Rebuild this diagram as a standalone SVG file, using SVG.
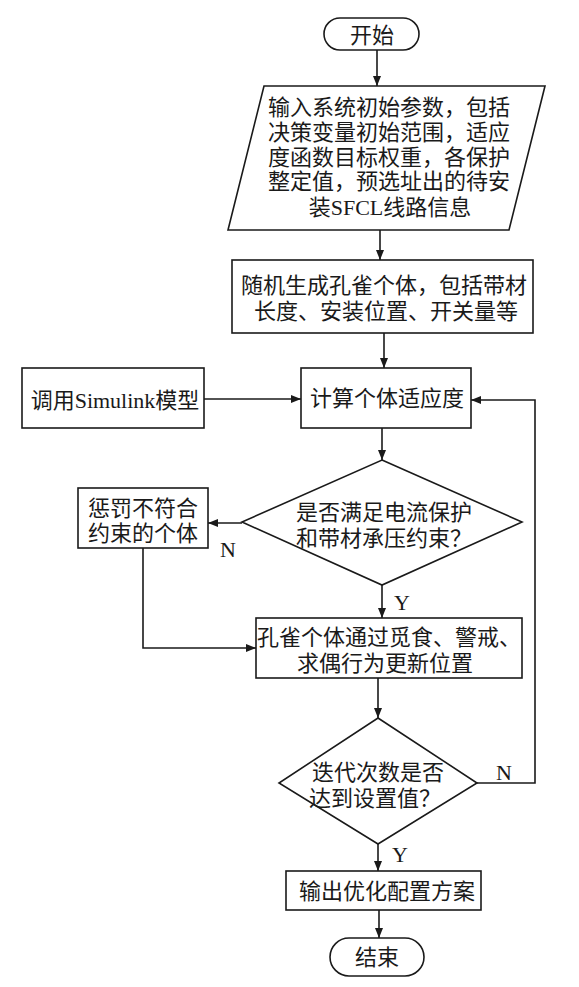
<svg xmlns="http://www.w3.org/2000/svg" width="579" height="987" viewBox="0 0 579 987">
<defs>
<style>
.s{fill:#fff;stroke:#1a1a1a;stroke-width:1.6}
.c{fill:none;stroke:#1a1a1a;stroke-width:1.6}
.t{font-family:"Liberation Serif","Noto Sans CJK SC",serif;font-size:22px;fill:#1a1a1a;text-anchor:middle}
</style>
<marker id="ah" markerWidth="10" markerHeight="8" refX="10" refY="4" orient="auto" markerUnits="userSpaceOnUse">
<path d="M0,0 L10,4 L0,8 Z" fill="#1a1a1a"/>
</marker>
</defs>
<rect width="579" height="987" fill="#fff"/>
<g id="connectors">
<line class="c" x1="377" y1="50" x2="377" y2="86" marker-end="url(#ah)"/>
<line class="c" x1="380" y1="230" x2="380" y2="260" marker-end="url(#ah)"/>
<line class="c" x1="384" y1="333" x2="384" y2="368" marker-end="url(#ah)"/>
<line class="c" x1="204" y1="399" x2="301" y2="399" marker-end="url(#ah)"/>
<line class="c" x1="382" y1="428" x2="382" y2="460" marker-end="url(#ah)"/>
<line class="c" x1="242" y1="523" x2="208" y2="523" marker-end="url(#ah)"/>
<path class="c" d="M143,548 V648 H256" marker-end="url(#ah)"/>
<line class="c" x1="382" y1="585" x2="382" y2="618" marker-end="url(#ah)"/>
<line class="c" x1="378" y1="678" x2="378" y2="718" marker-end="url(#ah)"/>
<path class="c" d="M477,783 H535 V400 H471" marker-end="url(#ah)"/>
<line class="c" x1="378" y1="844" x2="378" y2="871" marker-end="url(#ah)"/>
<line class="c" x1="379" y1="910" x2="379" y2="938" marker-end="url(#ah)"/>
<text class="t" x="228" y="557">N</text>
<text class="t" x="402" y="610">Y</text>
<text class="t" x="504" y="780">N</text>
<text class="t" x="400" y="862">Y</text>
</g>
<g id="start">
<rect class="s" x="324" y="18" width="95" height="32" rx="16"/>
<text class="t" x="372" y="43">开始</text>
</g>
<g id="input">
<polygon class="s" points="264,86 545,86 509,230 228,230"/>
<text class="t" x="389" y="115">输入系统初始参数，包括</text>
<text class="t" x="389" y="140">决策变量初始范围，适应</text>
<text class="t" x="389" y="165">度函数目标权重，各保护</text>
<text class="t" x="389" y="189">整定值，预选址出的待安</text>
<text class="t" x="390" y="215">装SFCL线路信息</text>
</g>
<g id="init">
<rect class="s" x="232" y="260" width="301" height="73"/>
<text class="t" x="384" y="293">随机生成孔雀个体，包括带材</text>
<text class="t" x="386" y="319">长度、安装位置、开关量等</text>
</g>
<g id="simulink">
<rect class="s" x="22" y="368" width="182" height="60"/>
<text class="t" x="115" y="408">调用Simulink模型</text>
</g>
<g id="fitness">
<rect class="s" x="301" y="368" width="170" height="60"/>
<text class="t" x="387" y="406">计算个体适应度</text>
</g>
<g id="check">
<polygon class="s" points="382,460 522,522 382,585 242,522"/>
<text class="t" x="384" y="520">是否满足电流保护</text>
<text class="t" x="384" y="546">和带材承压约束？</text>
</g>
<g id="penalty">
<rect class="s" x="78" y="488" width="130" height="60"/>
<text class="t" x="143" y="516">惩罚不符合</text>
<text class="t" x="143" y="541">约束的个体</text>
</g>
<g id="update">
<rect class="s" x="256" y="618" width="266" height="60"/>
<text class="t" x="389" y="645">孔雀个体通过觅食、警戒、</text>
<text class="t" x="385" y="671">求偶行为更新位置</text>
</g>
<g id="iter">
<polygon class="s" points="378,718 477,783 378,844 279,783"/>
<text class="t" x="378" y="780">迭代次数是否</text>
<text class="t" x="375" y="806">达到设置值？</text>
</g>
<g id="output">
<rect class="s" x="286" y="871" width="195" height="39"/>
<text class="t" x="387" y="899">输出优化配置方案</text>
</g>
<g id="end">
<rect class="s" x="330" y="938" width="94" height="38" rx="19"/>
<text class="t" x="377" y="965">结束</text>
</g>
</svg>
